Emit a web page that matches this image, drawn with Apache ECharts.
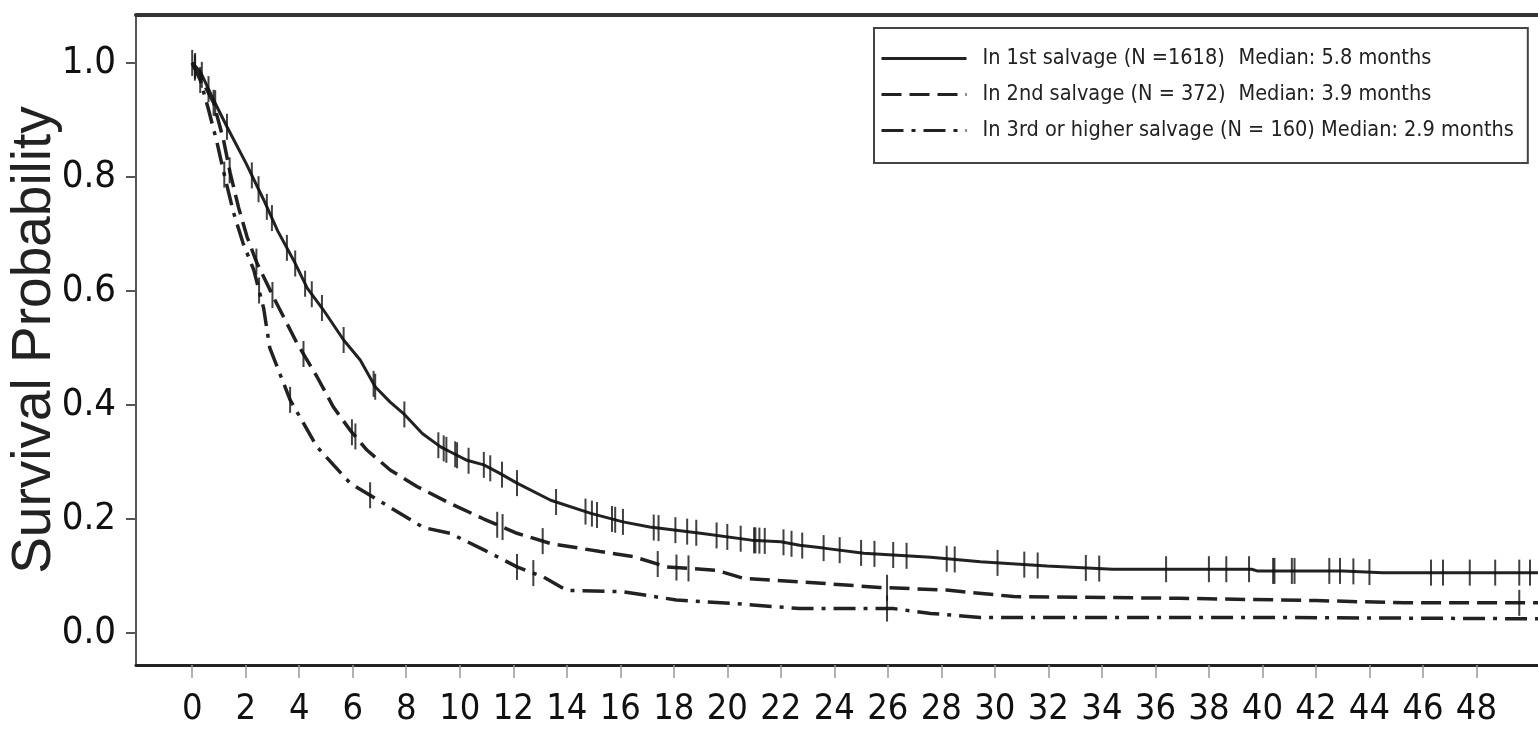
<!DOCTYPE html>
<html>
<head>
<meta charset="utf-8">
<script src="https://cdn.jsdelivr.net/npm/echarts@6/dist/echarts.min.js"></script>
<style>
html,body{margin:0;padding:0;background:#fff;}
#chart{width:1538px;height:736px;}
</style>
</head>
<body>
<div id="chart"></div>
<script>
// ---- data ----
const xTicks = [0, 2, 4, 6, 8, 10, 12, 14, 16, 18, 20, 22, 24, 26, 28, 30, 32, 34, 36, 38, 40, 42, 44, 46, 48];
const yTicks = [0.0, 0.2, 0.4, 0.6, 0.8, 1.0];

const seriesNames = [
  'In 1st salvage (N =1618)',
  'In 2nd salvage (N = 372)',
  'In 3rd or higher salvage (N = 160)'
];
const medians = ['Median: 5.8 months', 'Median: 3.9 months', 'Median: 2.9 months'];

// Kaplan-Meier curves: [months, survival probability]
const curve1st = [
  [0, 1.0], [0.3, 0.985], [0.8, 0.935], [1.3, 0.888], [2.0, 0.825], [2.67, 0.76],
  [3.2, 0.705], [3.79, 0.654], [4.3, 0.605], [4.9, 0.567], [5.66, 0.514], [6.28, 0.479],
  [6.84, 0.432], [7.4, 0.405], [7.9, 0.385], [8.6, 0.35], [9.27, 0.327], [9.64, 0.318],
  [10.27, 0.303], [10.9, 0.295], [11.5, 0.28], [12.14, 0.263], [13.4, 0.233], [14.9, 0.21],
  [16.1, 0.195], [17.1, 0.186], [19.0, 0.175], [20.9, 0.163], [22.0, 0.16], [22.7, 0.154],
  [23.6, 0.149], [25.1, 0.14], [27.6, 0.133], [29.46, 0.125], [31.95, 0.1175], [34.4, 0.112],
  [39.6, 0.112], [39.8, 0.109], [43.0, 0.109], [44.5, 0.106], [50.3, 0.106]
];
const curve2nd = [
  [0, 1.0], [0.3, 0.975], [0.8, 0.93], [1.17, 0.865], [1.42, 0.807], [1.73, 0.747],
  [2.05, 0.695], [2.42, 0.649], [3.03, 0.59], [3.9, 0.51], [4.66, 0.45], [5.27, 0.397],
  [5.9, 0.356], [6.53, 0.321], [7.4, 0.286], [8.4, 0.257], [9.64, 0.2275], [10.9, 0.2],
  [12.14, 0.175], [13.4, 0.157], [15.25, 0.143], [16.5, 0.134], [17.75, 0.116], [19.6, 0.11],
  [20.6, 0.096], [22.7, 0.09], [25.7, 0.08], [28.2, 0.0754], [30.7, 0.064], [36.9, 0.061],
  [42.0, 0.057], [45.3, 0.053], [50.3, 0.053]
];
const curve3rd = [
  [0, 1.0], [0.3, 0.97], [0.6, 0.92], [0.93, 0.86], [1.17, 0.81], [1.53, 0.74],
  [1.9, 0.684], [2.3, 0.637], [2.67, 0.57], [2.9, 0.5], [3.66, 0.409], [4.66, 0.327],
  [5.9, 0.263], [7.15, 0.2275], [8.65, 0.185], [9.64, 0.175], [10.9, 0.146], [12.14, 0.116],
  [13.1, 0.099], [14.0, 0.075], [16.1, 0.0725], [18.1, 0.058], [20.2, 0.052], [22.7, 0.043],
  [26.2, 0.043], [27.6, 0.0345], [29.46, 0.0275], [40.0, 0.0275], [50.3, 0.025]
];

// censoring times (months)
const censor1st = [0, 0.11, 0.36, 0.61, 0.86, 1.3, 2.23, 2.48, 2.79, 2.98, 3.54, 3.85, 4.22, 4.47,
  4.85, 5.66, 6.78, 6.84, 7.93, 9.2, 9.4, 9.5, 9.83, 9.9, 10.33, 10.9, 11.14, 11.58, 12.14, 13.6,
  14.7, 14.94, 15.13, 15.69, 15.81, 16.1, 17.25, 17.43, 18.06, 18.5, 18.84, 19.6, 20.0, 20.5, 21.0,
  21.05, 21.2, 21.4, 22.1, 22.4, 22.8, 23.6, 24.2, 25.0, 25.5, 26.2, 26.7, 28.2, 28.5, 30.1, 31.1,
  31.6, 33.4, 33.9, 36.4, 38.0, 38.65, 39.5, 40.4, 40.45, 41.1, 41.2, 42.5, 42.9, 43.4, 44.0, 46.3,
  46.75, 47.75, 48.7, 49.6, 50.0];
const censor2nd = [0.1, 0.8, 1.4, 2.4, 3.0, 4.16, 5.97, 6.1, 11.4, 11.6, 13.1, 17.4, 18.1, 18.55, 25.97, 49.6];
const censor3rd = [0.3, 1.2, 2.5, 3.66, 6.65, 12.14, 12.75, 25.97];

// ---- build ----
function valueAt(curve, t) {
  for (let i = 0; i < curve.length - 1; i++) {
    const a = curve[i], b = curve[i + 1];
    if (t >= a[0] && t <= b[0]) {
      const f = b[0] === a[0] ? 0 : (t - a[0]) / (b[0] - a[0]);
      return a[1] + f * (b[1] - a[1]);
    }
  }
  return curve[curve.length - 1][1];
}
function censorPoints(curve, times) { return times.map(t => [t, valueAt(curve, t)]); }

const cond = "'DejaVu Sans Condensed', 'Liberation Sans Narrow', sans-serif";
const curves = [curve1st, curve2nd, curve3rd];
const censors = [censor1st, censor2nd, censor3rd];
const dashTypes = ['solid', [20, 8], [22, 8, 4, 8]];
const widths = [3, 3.5, 3.5];

const series = [];
curves.forEach((c, i) => {
  series.push({
    name: seriesNames[i], type: 'line', data: c, symbol: 'none', showSymbol: false,
    lineStyle: { color: '#222', width: widths[i], type: dashTypes[i] },
    itemStyle: { color: '#222' }, z: 3
  });
});
censors.forEach((c, i) => {
  series.push({
    name: 'censor' + i, type: 'scatter', data: censorPoints(curves[i], c),
    symbol: 'rect', symbolSize: [2, 26], itemStyle: { color: '#111' }, z: 4
  });
});

const legendFont = 21.5;
const xMin = -2.1, xMax = 50.3;
const chart = echarts.init(document.getElementById('chart'), null, { renderer: 'canvas' });
chart.setOption({
  animation: false,
  backgroundColor: '#fff',
  grid: { left: 136, right: 0, top: 15, bottom: 71, containLabel: false, outerBoundsMode: 'none' },
  legend: {
    data: seriesNames,
    orient: 'vertical',
    left: 874, top: 28,
    padding: [18, 14, 20, 6],
    itemWidth: 85, itemHeight: 14, itemGap: 11,
    borderColor: '#444', borderWidth: 2,
    backgroundColor: '#fff',
    itemStyle: { opacity: 0 },
    lineStyle: { width: 3 },
    formatter: function (name) {
      const i = seriesNames.indexOf(name);
      if (i < 2) return '{a|' + name + '}{b|' + medians[i] + '}';
      return '{c|' + name + '}{b| ' + medians[i] + '}';
    },
    textStyle: {
      fontFamily: cond, fontSize: legendFont, color: '#222', lineHeight: 25,
      rich: {
        a: { fontFamily: cond, fontSize: legendFont, color: '#222', width: 256, padding: [0, 0, 0, 11], lineHeight: 25 },
        b: { fontFamily: cond, fontSize: legendFont, color: '#222', lineHeight: 25 },
        c: { fontFamily: cond, fontSize: legendFont, color: '#222', padding: [0, 0, 0, 11], lineHeight: 25 }
      }
    }
  },
  xAxis: [{
    type: 'value', min: xMin, max: xMax,
    axisLine: { show: true, onZero: false, lineStyle: { color: '#222', width: 3 } },
    axisTick: { show: true, customValues: xTicks, length: 13, lineStyle: { color: '#999', width: 1.5 } },
    axisLabel: { customValues: xTicks, fontFamily: cond, fontSize: 36, color: '#111', margin: 27 },
    splitLine: { show: false }
  }, {
    type: 'value', position: 'top', min: xMin, max: xMax,
    axisLine: { show: true, onZero: false, lineStyle: { color: '#333', width: 4 } },
    axisTick: { show: false }, axisLabel: { show: false }, splitLine: { show: false }
  }],
  yAxis: {
    type: 'value', min: -0.056, max: 1.084,
    axisLine: { show: true, onZero: false, lineStyle: { color: '#555', width: 2 } },
    axisTick: { show: true, customValues: yTicks, length: 10, lineStyle: { color: '#555', width: 2 } },
    axisLabel: { customValues: yTicks, formatter: v => v.toFixed(1), fontFamily: cond, fontSize: 38, color: '#111', margin: 20 },
    splitLine: { show: false },
    name: 'Survival Probability', nameLocation: 'middle', nameGap: 74, nameMoveOverlap: false,
    nameTextStyle: { fontFamily: "'Liberation Sans', Arial, sans-serif", fontSize: 55, color: '#222' }
  },
  series: series
});
</script>
</body>
</html>
